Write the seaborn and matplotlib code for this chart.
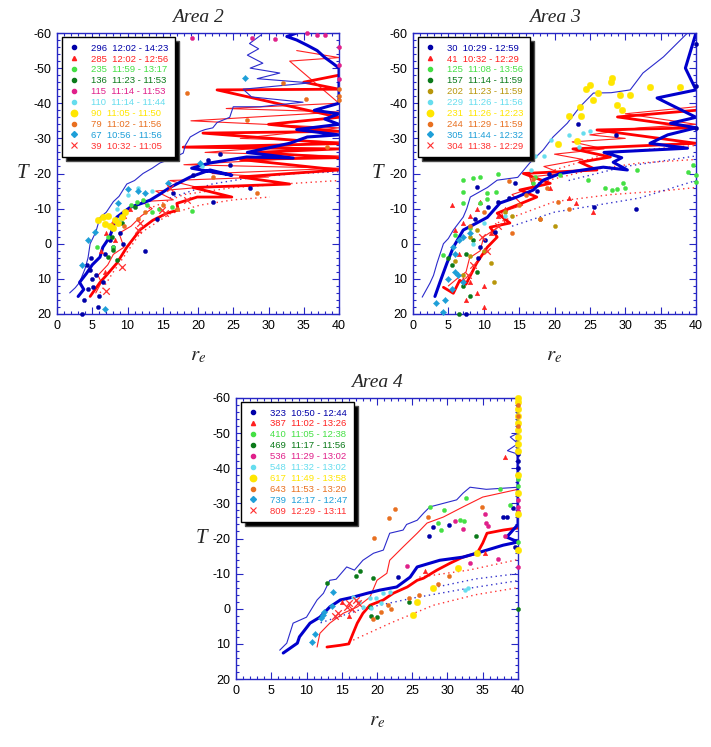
import matplotlib
matplotlib.use('Agg')
import matplotlib.pyplot as plt
import seaborn as sns
from matplotlib.lines import Line2D
from matplotlib.ticker import MultipleLocator

sns.set_theme(style='white')
plt.rcParams['font.family'] = ['Liberation Sans', 'DejaVu Sans']
plt.rcParams['mathtext.fontset'] = 'stix'
plt.rcParams['axes.unicode_minus'] = False

# ---------------- Area 2 data ----------------
A2_THIN_BLUE_R = [1.8, 2.6, 3.2, 3.6, 4.0, 4.4, 4.7, 5.3, 5.6, 6.1, 7.0, 8.0, 8.8, 9.9, 11.0, 12.2, 13.5, 14.6, 16.0, 17.9, 18.2, 18.9, 20.3, 21.0, 22.1, 22.7, 24.5, 25.0, 28.8, 34.9, 27.6, 26.4, 35.9, 28.4, 31.6, 27.4, 29.2, 27.0, 28.6, 27.3, 29.0]
A2_THIN_BLUE_T = [14, 12.5, 11, 9, 7, 4, 0, -2.5, -4, -7.5, -9, -12, -13.5, -17, -18, -20, -21.5, -23, -24, -25.8, -28, -30.4, -32, -32.5, -33, -34.5, -36, -39, -39, -40.3, -41.8, -44, -45.8, -47, -48.6, -50, -51.4, -53.7, -55.5, -57, -59.5]
A2_THICK_BLUE_R = [3.0, 3.8, 3.2, 4.2, 5.0, 6.1, 6.5, 7.5, 8.0, 8.5, 10.4, 12.0, 13.2, 14.5, 16.0, 18.9, 21.7, 24.8, 19.1, 21.7, 26.9, 33.5, 27.0, 33.0, 35.5, 40.0, 34.0, 40.0, 38.0, 40.0, 36.5, 40.0, 40.0, 39.1, 38.0, 36.9, 35.5, 34.0, 32.6, 34.0]
A2_THICK_BLUE_T = [15, 13, 11, 8.4, 6, 3.8, 1, -2, -5, -7.6, -10.4, -11.5, -12.4, -14, -16, -19, -21, -19.5, -21.5, -23, -24.7, -24.4, -26, -28.6, -30.4, -31, -32.5, -34, -35.5, -37, -38, -40, -50, -51.4, -53, -55, -56.5, -58, -59, -60]
A2_THICK_RED_R = [4.7, 6.1, 7.0, 8.5, 9.9, 11.8, 13.6, 15.6, 17.2, 17.0, 19.9, 24.8, 19.3, 33.0, 26.0, 40.0, 26.0, 40.0, 28.0, 40.0, 17.9, 40.0, 20.7, 40.0, 30.0, 40.0, 22.7, 40.0, 35.0, 40.0]
A2_THICK_RED_T = [15, 11, 9, 5.5, 1, -4, -6.7, -8.7, -9.6, -11.5, -13.3, -13.3, -16, -17, -19, -21, -24, -24.5, -26, -27, -27.5, -28.5, -31.5, -32, -34, -36, -43.8, -44, -46, -48]
A2_THIN_RED_R = [5.5, 6.3, 5.8, 7.2, 8.0, 9.5, 8.8, 10.5, 12.0, 13.5, 12.0, 16.5, 14.0, 20.0, 16.0, 30.0, 22.0, 40.0, 18.0, 40.0, 21.0, 40.0, 26.0, 40.0, 19.0, 40.0, 24.0, 40.0, 33.0, 40.0, 34.0]
A2_THIN_RED_T = [14, 11, 9, 6, 3, 1, -3, -5, -8, -10, -12, -12.5, -15, -16, -18, -19, -20, -21.5, -22.5, -25, -26, -29, -30, -33, -35, -37.5, -38.5, -40, -52, -53, -55]
A2_DOT_RED1_R = [6.1, 8.0, 11.8, 16.0, 20.3, 25.0, 30.2]
A2_DOT_RED1_T = [14, 8, -3, -8.5, -11, -12.5, -13.3]
A2_DOT_RED2_R = [13.0, 18.0, 25.0, 32.0, 40.0]
A2_DOT_RED2_T = [-10, -14, -16, -17, -18]
A2_DOT_BLUE_R = [16.0, 22.0, 28.0, 34.0, 40.0]
A2_DOT_BLUE_T = [-13, -17, -19, -20, -20.5]

A2_LABELS = ['296  12:02 - 14:23', '285  12:02 - 12:56', '235  11:59 - 13:17', '136  11:23 - 11:53',
             '115  11:14 - 11:53', '110  11:14 - 11:44', '90  11:05 - 11:50', '79  11:02 - 11:56',
             '67  10:56 - 11:56', '39  10:32 - 11:05']
A2_S1_R = [3.5, 3.9, 4.4, 5.0, 5.8, 4.7, 5.1, 6.0, 6.5, 5.5, 4.8, 6.8, 8.0, 8.9, 7.5, 12.5, 14.2, 16.5, 22.1, 19.3, 21.4, 23.1, 24.5, 27.4, 9.3, 4.2]
A2_S1_T = [20, 16, 13, 10, 18, 7.5, 12.4, 15, 11, 9, 4, 3, 1, -3, -1, 2, -7, -14.4, -12, -19.5, -23.8, -25.5, -22.4, -16, 0, 6]
A2_S2_R = [6.2, 7.0, 8.2, 9.5, 10.3, 7.8, 6.8]
A2_S2_T = [2, -3, -1, -8, -10, -6, 8]
A2_S3_R = [11.3, 12.2, 13.5, 16.3, 19.1, 5.7, 8.0, 7.2, 10.5, 12.8, 14.5]
A2_S3_T = [-11.9, -12.5, -9, -10.5, -9.3, 1, 1, -2, -11, -11, -10]
A2_S4_R = [7.8, 8.0, 7.2, 9.2, 11.0, 8.5]
A2_S4_T = [-1.9, 1.8, 3.8, -6, -10.5, 4.5]
A2_S5_R = [19.1, 27.7, 30.9, 35.5, 36.9, 38.0, 40.0, 40.0, 40.0]
A2_S5_T = [-58.6, -58.6, -58.3, -60, -59.5, -59.5, -56, -51, -47]
A2_S6_R = [10.0, 11.5, 13.5, 20.5, 8.5, 9.0]
A2_S6_T = [-14, -16, -15, -22, -10, -7]
A2_S7_R = [5.8, 6.5, 7.2, 8.2, 8.7, 9.2, 9.6, 7.5, 6.8, 8.0]
A2_S7_T = [-6.7, -7.6, -8, -6.7, -5.9, -7.6, -9, -5, -5.5, -4.5]
A2_S8_R = [18.4, 32.0, 35.3, 26.9, 38.3, 22.1, 28.4, 40.0, 40.0, 40.0, 9.5, 11.5, 15.0, 17.0, 12.5]
A2_S8_T = [-42.8, -45.7, -41.2, -35.2, -27.5, -19, -14.4, -44, -42, -41, -5, -7, -11, -10, -9]
A2_S9_R = [10.1, 15.7, 12.5, 4.4, 5.4, 6.8, 20.3, 8.7, 26.7, 11.5, 3.5]
A2_S9_T = [-15.6, -17.4, -14.4, -1, -3.4, 18.6, -23, -11.6, -47.2, -15, 6]
A2_S10_R = [16.0, 14.9, 9.2, 11.5, 11.8, 18.4, 15.3, 7.0]
A2_S10_T = [-15.8, -9.6, 6.7, -3.9, -6, -12.4, -8.7, 13.5]

# ---------------- Area 3 data ----------------
A3_THIN_BLUE_R = [1.3, 2.4, 2.9, 3.4, 4.3, 5.0, 5.7, 7.1, 7.6, 8.1, 10.5, 11.9, 14.8, 16.5, 18.4, 19.8, 21.8, 23.6, 25.5, 28.0, 30.7, 32.5, 35.4, 37.3, 38.8, 40.0]
A3_THIN_BLUE_T = [15.2, 11.2, 9, 5.5, 0, -1.5, -3.9, -7.6, -10, -13.3, -16, -18.1, -18.9, -23, -26.7, -30.4, -34.3, -39, -42.9, -43, -43.8, -48.6, -53.2, -57, -60, -60]
A3_THICK_BLUE_R = [3.1, 3.8, 4.8, 5.7, 7.1, 9.0, 10.5, 12.3, 14.7, 17.0, 18.4, 20.8, 24.0, 26.9, 30.3, 28.3, 29.5, 27.0, 38.8, 33.5, 36.0, 40.0, 36.4, 40.0, 34.5, 40.0, 38.5, 40.0]
A3_THICK_BLUE_T = [15, 11, 5.5, 1, -3.9, -5.9, -7.5, -11.6, -13.3, -15.3, -18.1, -20, -21, -21.8, -21, -23.2, -24.5, -26, -27.2, -28.6, -31, -33, -34.3, -36, -41.5, -43.8, -50, -60]
A3_THICK_RED_R = [4.3, 5.7, 6.6, 7.5, 9.0, 10.5, 11.9, 10.9, 13.7, 11.9, 17.5, 15.1, 19.4, 15.6, 26.0, 23.6, 27.9, 22.6, 40.0, 26.0, 40.0, 28.9, 40.0]
A3_THICK_RED_T = [12.4, 14.1, 10.4, 11.5, 5.5, 1, -1.9, -4.7, -5.9, -8.7, -13.3, -15.3, -17.2, -20, -21, -23.2, -24.7, -27, -28.6, -32.4, -33, -36.1, -38]
A3_THIN_RED_R = [5.0, 6.2, 7.5, 8.0, 9.5, 10.0, 11.5, 13.0, 12.5, 15.5, 14.0, 17.0, 16.5, 21.0, 18.5, 24.0, 20.0, 27.0, 22.5, 30.0, 25.0, 32.0, 40.0, 30.0, 40.0]
A3_THIN_RED_T = [12, 10, 8, 4, 2, -2, -4, -6, -9, -11, -14, -16, -19, -20, -22, -24, -25.5, -27, -29, -30, -31, -33, -34, -37, -39]
A3_DOT_RED1_R = [12.0, 20.0, 28.0, 35.0, 40.0]
A3_DOT_RED1_T = [-6, -12, -14, -15, -16]
A3_DOT_RED2_R = [17.0, 25.0, 32.0, 40.0]
A3_DOT_RED2_T = [-17, -21, -23, -24]
A3_DOT_RED3_R = [20.0, 28.0, 40.0]
A3_DOT_RED3_T = [-21, -26, -28]
A3_DOT_BLUE1_R = [14.0, 20.0, 26.0, 32.0, 40.0]
A3_DOT_BLUE1_T = [-5, -9, -11, -13, -18]
A3_DOT_BLUE2_R = [22.0, 30.0, 40.0]
A3_DOT_BLUE2_T = [-18, -22, -25]

A3_LABELS = ['30  10:29 - 12:59', '41  10:32 - 12:29', '125  11:08 - 13:56', '157  11:14 - 11:59',
             '202  11:23 - 11:59', '229  11:26 - 11:56', '231  11:26 - 12:23', '244  11:29 - 11:59',
             '305  11:44 - 12:32', '304  11:38 - 12:29']
A3_S1_R = [7.5, 9.0, 10.6, 11.6, 9.5, 9.2, 10.2, 14.4, 23.3, 28.7, 25.6, 31.5, 19.2, 17.5, 13.5, 8.7, 12.0, 40, 40, 40]
A3_S1_T = [20, -16.1, -10.4, -3.3, 1, 4.1, -1, -17.3, -34, -31, -10.5, -10, -20, -15, -13, -7, -12, -33, -45, -57]
A3_S2_R = [6.0, 5.5, 7.0, 8.0, 9.5, 9.0, 12.0, 6.5, 7.0, 8.0, 9.0, 10.0, 19.4, 22.0, 25.5, 23.0, 7.5, 10.0, 11.0, 13.0]
A3_S2_T = [-4, -11, -6, -8, -12, -10, -8, 3, 10, 11, 14, 12, -16, -13, -9, -11.5, 16, 18, -3, -10]
A3_S3_R = [7.1, 8.5, 9.5, 12.0, 7.1, 10.5, 11.7, 7.1, 9.4, 8.1, 5.9, 4.3, 10.5, 17.0, 17.2, 20.8, 24.8, 27.2, 28.1, 28.8, 30.0, 29.7, 31.7, 38.9, 39.6, 40.0, 40.0]
A3_S3_T = [-18.1, -18.6, -19, -20, -14.8, -14.4, -14.8, -11.6, -11.6, -4.4, -2.5, 3.2, -12.6, -17.3, -19, -19.5, -18.1, -16, -15.4, -15.6, -16, -17.2, -21, -20.4, -22.4, -19.7, -17.5]
A3_S4_R = [5.5, 8.0, 6.5, 9.0, 7.5, 5.0, 7.0, 8.5]
A3_S4_T = [6, 15, 20, 8, 3, 4, 12, -1]
A3_S5_R = [6.0, 7.0, 8.0, 10.0, 11.0, 11.5, 9.0, 13.0, 14.0, 18.0, 20.0, 8.0]
A3_S5_T = [5, 9, 3.5, 2, 5.5, 11, -4, -9, -8, -7, -5, -2]
A3_S6_R = [16.7, 18.5, 19.5, 22.0, 24.0, 25.0, 17.2, 23.5, 13.0, 10.0, 8.5]
A3_S6_T = [-21, -25, -29.5, -31, -31.5, -32, -25, -27.5, -8, -6, 0]
A3_S7_R = [25.0, 28.1, 26.2, 29.3, 30.7, 33.5, 37.8, 28.9, 23.6, 22.0, 23.8, 25.5, 20.5, 23.2, 24.5, 28.0, 29.5]
A3_S7_T = [-45.2, -47.2, -42.9, -42.3, -42.3, -44.6, -44.6, -39.5, -38.9, -36.4, -36.4, -40.9, -28.4, -29.2, -44, -46, -38]
A3_S8_R = [13.5, 15.0, 16.0, 18.0, 20.5, 14.0, 19.0, 22.0, 10.0, 8.0, 17.0]
A3_S8_T = [-18, -11, -14, -7, -12, -3, -16, -10, -9, -5, -18.5]
A3_S9_R = [3.3, 4.5, 4.2, 5.0, 5.5, 6.0, 5.6, 6.0, 6.5, 7.0, 8.0, 6.4, 7.0]
A3_S9_T = [17, 16, 19.5, 10, 13, 8, 1, 3, -1, -2, -3, 9, 11]
A3_S10_R = [8.5, 10.5, 9.8, 7.8, 12.0]
A3_S10_T = [6, 2, -2, 9, -5]

# ---------------- Area 4 data ----------------
A4_THIN_BLUE_R = [6.2, 7.2, 8.1, 10.0, 11.5, 12.4, 13.3, 14.2, 15.7, 16.8, 18.0, 19.5, 20.9, 21.8, 23.7, 24.2, 25.7, 26.6, 27.5, 31.3, 32.2, 33.2, 35.5, 40.0, 40.0, 38.5, 40.0, 38.9, 40.0, 40.0]
A4_THIN_BLUE_T = [11.8, 9.8, 4.1, 2.4, -2.5, -4.4, -8.1, -8.4, -11.9, -11, -13.8, -15.8, -16.7, -21.5, -22.4, -24, -25.2, -27.2, -29, -31, -32.9, -34.6, -34, -34.6, -44, -45, -47, -48.9, -50, -60]
A4_THICK_BLUE_R = [6.7, 8.7, 9.0, 10.5, 11.9, 13.3, 14.8, 16.6, 18.6, 20.4, 22.8, 24.7, 25.7, 28.9, 32.2, 34.6, 37.9, 40.0, 38.4, 40.0, 40.0]
A4_THICK_BLUE_T = [12.6, 9.8, 8, 4.1, 2.4, -0.5, -2.5, -3.3, -4.4, -5.3, -6.2, -9, -11.9, -13.8, -14.7, -16.1, -18.1, -19, -20.4, -24, -60]
A4_THICK_RED_R = [12.9, 14.8, 16.0, 16.6, 17.2, 18.0, 19.0, 20.9, 22.3, 24.3, 25.7, 26.6, 28.5, 30.4, 32.2, 34.2, 35.0, 35.6, 37.9, 40.0]
A4_THICK_RED_T = [10.9, 10.4, 10, 7, 4.1, 1.3, -1, -2.5, -4.4, -6.2, -8.1, -8.7, -11, -13, -14.7, -15.8, -18.7, -21.5, -22.4, -23]
A4_THIN_RED_R = [11.5, 11.9, 13.3, 15.2, 17.2, 19.0, 20.0, 21.4, 21.8, 23.7, 25.7, 27.1, 29.4, 32.2, 35.0, 40.0]
A4_THIN_RED_T = [10.9, 7, 4.1, 1.3, -0.5, -3.3, -8.1, -10.1, -13.8, -17.6, -21.5, -24.4, -26.1, -29, -31.8, -34]
A4_DOT_BLUE1_R = [12.0, 18.0, 25.0, 32.0, 40.0]
A4_DOT_BLUE1_T = [4, 0, -3, -5.5, -8]
A4_DOT_RED1_R = [16.0, 22.0, 28.0, 34.0, 40.0]
A4_DOT_RED1_T = [9.5, 4, -1, -4, -6]
A4_DOT_BLUE2_R = [28.0, 34.0, 40.0]
A4_DOT_BLUE2_T = [-6, -8.5, -10]
A4_DOT_RED2_R = [26.0, 33.0, 40.0]
A4_DOT_RED2_T = [-9, -11, -14]

A4_LABELS = ['323  10:50 - 12:44', '387  11:02 - 13:26', '410  11:05 - 12:38', '469  11:17 - 11:56',
             '536  11:29 - 13:02', '548  11:32 - 13:02', '617  11:49 - 13:58', '643  11:53 - 13:20',
             '739  12:17 - 12:47', '809  12:29 - 13:11']
A4_S1_R = [27.9, 30.2, 27.4, 37.9, 39.3, 38.5, 40, 40, 40, 39.6, 23, 40, 40]
A4_S1_T = [-23.2, -23.8, -20.7, -26.1, -28.7, -26, -44, -42, -40, -17.6, -9, -55, -38]
A4_S2_R = [38.2, 35.3, 26.8, 15, 16]
A4_S2_T = [-43.2, -15.8, -10.7, -2, 2]
A4_S3_R = [37.4, 32.6, 27.5, 29.5, 28.6, 29.1, 31.8, 32.3, 38.9, 40, 40, 40, 40]
A4_S3_T = [-34, -31.5, -29, -28.1, -24.4, -22.4, -25.2, -25, -29.5, -33, -35, -37, -19]
A4_S4_R = [12.9, 17.0, 17.6, 19.4, 19.0, 20.0, 19.2, 34.0, 40.0, 24.5]
A4_S4_T = [-7.3, -9.3, -10.7, -8.7, -0.5, 2.4, 2, -20.7, 0, -2]
A4_S5_R = [35.3, 35.5, 35.8, 32.2, 31.1, 33.2, 37.1, 38.2, 24.3, 40, 40, 40, 40]
A4_S5_T = [-27, -24.4, -23.5, -22.7, -25, -13, -14.1, -20.7, -12.1, -27.7, -31, -12, -29]
A4_S6_R = [16.6, 19.0, 19.8, 20.9, 21.8, 18.0, 19.2, 32.5, 32.9, 20.5, 17.5]
A4_S6_T = [-3.3, -3, -3.1, -4.4, -4.8, -0.5, -0.3, -5.3, -5.9, -1.5, -2]
A4_S7_R = [31.5, 27.9, 25.7, 25.1, 34.2, 40, 40, 40, 40, 40, 40, 40, 40, 40, 40, 40, 40, 40]
A4_S7_T = [-11.6, -5.9, -1.9, 1.8, -15.8, -16.7, -27, -38, -45, -47, -49, -51, -53, -55, -57, -59, -60, -33]
A4_S8_R = [22.6, 21.7, 19.6, 27.2, 34.9, 30.2, 28.6, 20.5, 21.5, 22.0, 19.5, 26.0, 40, 40, 40, 24.5]
A4_S8_T = [-28.4, -25.8, -20.1, -26.1, -29, -9.3, -7, 1, -1, 0, 3, -4, -58, -52, -55, -3]
A4_S9_R = [12.3, 12.0, 13.7, 13.6, 11.2, 10.8, 12.5]
A4_S9_T = [1.8, 2.5, -4.7, -0.7, 7.2, 9.5, 1]
A4_S10_R = [15.7, 16.0, 17.3, 17.0, 14.5, 14.0, 16.5]
A4_S10_T = [-0.5, -1.5, -1.6, -2.5, 1.3, 2, 0]

# ---------------- styles ----------------
FRAME = '#2626C4'
LINE_STYLES = {
    'thick_blue': dict(color='#0000CC', lw=2.2, ls='-'),
    'thin_blue': dict(color='#2B2BCC', lw=0.8, ls='-'),
    'thick_red': dict(color='#FF0000', lw=2.0, ls='-'),
    'thin_red': dict(color='#FF2020', lw=0.8, ls='-'),
    'dot_red': dict(color='#FF3333', lw=1.0, ls=(0, (1, 2.5))),
    'dot_blue': dict(color='#3333CC', lw=1.0, ls=(0, (1, 2.5))),
}
A2_STYLES = [('#0000A8', 'o', 9), ('#FF2020', '^', 11), ('#44E044', 'o', 9), ('#0B7A1A', 'o', 9),
             ('#E0208A', 'o', 9), ('#66DDEE', 'o', 8), ('#FFE600', 'o', 22), ('#E87020', 'o', 9),
             ('#1E9FD8', 'D', 10), ('#FF3030', 'x', 22)]
A3_STYLES = [('#0000A8', 'o', 9), ('#FF2020', '^', 11), ('#44E044', 'o', 9), ('#0B7A1A', 'o', 9),
             ('#B8960B', 'o', 9), ('#66DDEE', 'o', 8), ('#FFE600', 'o', 22), ('#E87020', 'o', 9),
             ('#1E9FD8', 'D', 10), ('#FF3030', 'x', 22)]
A4_STYLES = A2_STYLES

A2_LINES = [(A2_DOT_RED1_R, A2_DOT_RED1_T, 'dot_red'), (A2_DOT_RED2_R, A2_DOT_RED2_T, 'dot_red'),
            (A2_DOT_BLUE_R, A2_DOT_BLUE_T, 'dot_blue'),
            (A2_THIN_RED_R, A2_THIN_RED_T, 'thin_red'), (A2_THICK_RED_R, A2_THICK_RED_T, 'thick_red'),
            (A2_THIN_BLUE_R, A2_THIN_BLUE_T, 'thin_blue'), (A2_THICK_BLUE_R, A2_THICK_BLUE_T, 'thick_blue')]
A3_LINES = [(A3_DOT_RED1_R, A3_DOT_RED1_T, 'dot_red'), (A3_DOT_RED2_R, A3_DOT_RED2_T, 'dot_red'),
            (A3_DOT_RED3_R, A3_DOT_RED3_T, 'dot_red'), (A3_DOT_BLUE1_R, A3_DOT_BLUE1_T, 'dot_blue'),
            (A3_DOT_BLUE2_R, A3_DOT_BLUE2_T, 'dot_blue'),
            (A3_THIN_RED_R, A3_THIN_RED_T, 'thin_red'), (A3_THICK_RED_R, A3_THICK_RED_T, 'thick_red'),
            (A3_THIN_BLUE_R, A3_THIN_BLUE_T, 'thin_blue'), (A3_THICK_BLUE_R, A3_THICK_BLUE_T, 'thick_blue')]
A4_LINES = [(A4_DOT_BLUE1_R, A4_DOT_BLUE1_T, 'dot_blue'), (A4_DOT_RED1_R, A4_DOT_RED1_T, 'dot_red'),
            (A4_DOT_BLUE2_R, A4_DOT_BLUE2_T, 'dot_blue'), (A4_DOT_RED2_R, A4_DOT_RED2_T, 'dot_red'),
            (A4_THIN_RED_R, A4_THIN_RED_T, 'thin_red'), (A4_THICK_RED_R, A4_THICK_RED_T, 'thick_red'),
            (A4_THIN_BLUE_R, A4_THIN_BLUE_T, 'thin_blue'), (A4_THICK_BLUE_R, A4_THICK_BLUE_T, 'thick_blue')]
A2_SERIES = [(A2_S1_R, A2_S1_T), (A2_S2_R, A2_S2_T), (A2_S3_R, A2_S3_T), (A2_S4_R, A2_S4_T), (A2_S5_R, A2_S5_T),
             (A2_S6_R, A2_S6_T), (A2_S7_R, A2_S7_T), (A2_S8_R, A2_S8_T), (A2_S9_R, A2_S9_T), (A2_S10_R, A2_S10_T)]
A3_SERIES = [(A3_S1_R, A3_S1_T), (A3_S2_R, A3_S2_T), (A3_S3_R, A3_S3_T), (A3_S4_R, A3_S4_T), (A3_S5_R, A3_S5_T),
             (A3_S6_R, A3_S6_T), (A3_S7_R, A3_S7_T), (A3_S8_R, A3_S8_T), (A3_S9_R, A3_S9_T), (A3_S10_R, A3_S10_T)]
A4_SERIES = [(A4_S1_R, A4_S1_T), (A4_S2_R, A4_S2_T), (A4_S3_R, A4_S3_T), (A4_S4_R, A4_S4_T), (A4_S5_R, A4_S5_T),
             (A4_S6_R, A4_S6_T), (A4_S7_R, A4_S7_T), (A4_S8_R, A4_S8_T), (A4_S9_R, A4_S9_T), (A4_S10_R, A4_S10_T)]


def draw_panel(ax, lines, series, styles, labels, title):
    for r, t, key in lines:
        st = LINE_STYLES[key]
        sns.lineplot(x=r, y=t, sort=False, estimator=None, ax=ax, color=st['color'],
                     linewidth=st['lw'], linestyle=st['ls'], zorder=2)
    for (r, t), (c, m, s) in zip(series, styles):
        if m == 'x':
            sns.scatterplot(x=r, y=t, ax=ax, color=c, marker=m, s=s, linewidth=0.9,
                            zorder=3, clip_on=False, legend=False)
        else:
            sns.scatterplot(x=r, y=t, ax=ax, color=c, marker=m, s=s, edgecolor=c, linewidth=0.3,
                            zorder=3, clip_on=False, legend=False)
    ax.set_xlim(0, 40)
    ax.set_ylim(20, -60)
    ax.set_xticks(range(0, 41, 5))
    ax.set_yticks(range(-60, 21, 10))
    ax.xaxis.set_minor_locator(MultipleLocator(1))
    ax.yaxis.set_minor_locator(MultipleLocator(2))
    ax.tick_params(which='both', direction='in', top=True, right=True, bottom=True, left=True,
                   color=FRAME, labelcolor='black', labelsize=9, width=0.8)
    ax.tick_params(which='major', length=5, pad=4)
    ax.tick_params(which='minor', length=2.5)
    for sp in ax.spines.values():
        sp.set_color(FRAME)
        sp.set_linewidth(1.0)
    ax.set_title(title, fontfamily='Liberation Serif', fontstyle='italic', fontsize=14, pad=8)
    ax.set_xlabel(r'$r_e$', fontsize=15)
    ax.xaxis.set_label_coords(0.5, -0.115)
    ax.set_ylabel('T', fontfamily='Liberation Serif', fontstyle='italic', fontsize=15, rotation=0)
    ax.yaxis.set_label_coords(-0.124, 0.5)
    ax.yaxis.label.set_va('center')
    ax.yaxis.label.set_ha('center')
    ax.grid(False)

    handles = []
    for (c, m, s) in styles:
        ms = 4.6 if s > 15 and m == 'o' else 3.0
        if m == 'x':
            handles.append(Line2D([], [], marker='x', color=c, ls='None', markersize=4.5, markeredgewidth=0.8))
        else:
            handles.append(Line2D([], [], marker=m, color=c, ls='None', markersize=ms))
    leg = ax.legend(handles, labels, loc='upper left', bbox_to_anchor=(5 / 282, 1 - 4 / 281),
                    borderaxespad=0, fontsize=6.8, labelspacing=0.2, handlelength=1.2,
                    handletextpad=1.2, borderpad=0.7, frameon=True, fancybox=False,
                    shadow={'facecolor': 'black', 'alpha': 1.0, 'ox': 3, 'oy': -3},
                    framealpha=1, edgecolor='black')
    leg.get_frame().set_linewidth(1.0)
    leg.set_zorder(10)
    for txt, (c, m, s) in zip(leg.get_texts(), styles):
        txt.set_color(c)


fig = plt.figure(figsize=(7.11, 7.47), dpi=100)
ax2 = fig.add_axes([57 / 711, 1 - 314 / 747, 282 / 711, 281 / 747])
ax3 = fig.add_axes([413 / 711, 1 - 314 / 747, 283 / 711, 281 / 747])
ax4 = fig.add_axes([236 / 711, 1 - 679 / 747, 282 / 711, 281 / 747])

draw_panel(ax2, A2_LINES, A2_SERIES, A2_STYLES, A2_LABELS, 'Area 2')
draw_panel(ax3, A3_LINES, A3_SERIES, A3_STYLES, A3_LABELS, 'Area 3')
draw_panel(ax4, A4_LINES, A4_SERIES, A4_STYLES, A4_LABELS, 'Area 4')

fig.savefig('out.png', dpi=100, facecolor='white')
